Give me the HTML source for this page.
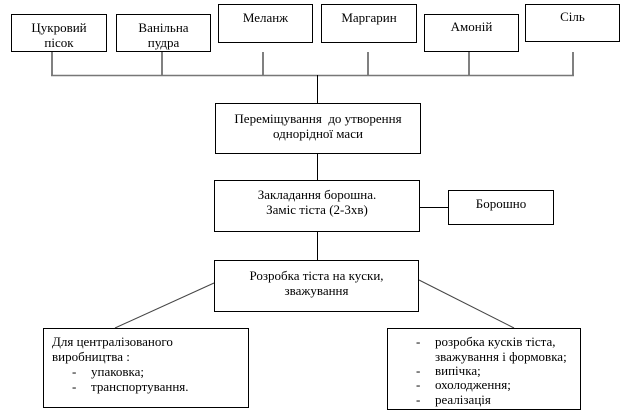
<!DOCTYPE html>
<html><head><meta charset="utf-8"><style>
body{margin:0;width:620px;height:416px;background:#fff;position:relative;overflow:hidden;font-family:"Liberation Serif",serif;font-size:13px;color:#000}
.b{position:absolute;border:1px solid #000;box-sizing:border-box;text-align:center;line-height:15px}
.t{position:absolute;white-space:nowrap;line-height:15px}
svg{position:absolute;left:0;top:0}
</style></head><body>
<svg width="620" height="416">
<g stroke="#000" stroke-width="1" fill="none">
<line x1="52" y1="52" x2="52" y2="75"/>
<line x1="162" y1="52" x2="162" y2="75"/>
<line x1="263" y1="52" x2="263" y2="75"/>
<line x1="368" y1="52" x2="368" y2="75"/>
<line x1="469" y1="52" x2="469" y2="75"/>
<line x1="573" y1="52" x2="573" y2="75"/>
<line x1="51" y1="75.5" x2="574" y2="75.5" stroke="#777" stroke-width="1.5"/>
<line x1="317.5" y1="75" x2="317.5" y2="103"/>
<line x1="317.5" y1="154" x2="317.5" y2="180"/>
<line x1="317.5" y1="232" x2="317.5" y2="260"/>
<line x1="420" y1="207.5" x2="448" y2="207.5"/>
<line x1="214" y1="283" x2="115" y2="328" stroke="#444"/>
<line x1="419" y1="280" x2="514" y2="328" stroke="#444"/>
</g></svg>
<div class="b" style="left:11px;top:14px;width:96px;height:38px;padding-top:5px">Цукровий<br>пісок</div>
<div class="b" style="left:116px;top:14px;width:95px;height:38px;padding-top:5px">Ванільна<br>пудра</div>
<div class="b" style="left:218px;top:4px;width:95px;height:39px;padding-top:5px">Меланж</div>
<div class="b" style="left:321px;top:4px;width:96px;height:39px;padding-top:5px">Маргарин</div>
<div class="b" style="left:424px;top:14px;width:95px;height:38px;padding-top:4px">Амоній</div>
<div class="b" style="left:525px;top:4px;width:95px;height:38px;padding-top:4px">Сіль</div>
<div class="b" style="left:215px;top:103px;width:206px;height:51px;padding-top:7px">Переміщування&nbsp; до утворення<br>однорідної маси</div>
<div class="b" style="left:214px;top:180px;width:206px;height:52px;padding-top:6px">Закладання борошна.<br>Заміс тіста (2-3хв)</div>
<div class="b" style="left:448px;top:190px;width:106px;height:35px;padding-top:5px">Борошно</div>
<div class="b" style="left:214px;top:260px;width:205px;height:52px;padding-top:7px">Розробка тіста на куски,<br>зважування</div>
<div class="b" style="left:43px;top:328px;width:206px;height:80px"></div>
<div class="t" style="left:52px;top:334px">Для централізованого</div>
<div class="t" style="left:52px;top:349px">виробництва :</div>
<div class="t" style="left:72px;top:364px">-</div><div class="t" style="left:91px;top:364px">упаковка;</div>
<div class="t" style="left:72px;top:379px">-</div><div class="t" style="left:91px;top:379px">транспортування.</div>
<div class="b" style="left:387px;top:328px;width:194px;height:82px"></div>
<div class="t" style="left:416px;top:334px">-</div><div class="t" style="left:435px;top:334px">розробка кусків тіста,</div>
<div class="t" style="left:435px;top:349px">зважування і формовка;</div>
<div class="t" style="left:416px;top:363px">-</div><div class="t" style="left:435px;top:363px">випічка;</div>
<div class="t" style="left:416px;top:377px">-</div><div class="t" style="left:435px;top:377px">охолодження;</div>
<div class="t" style="left:416px;top:392px">-</div><div class="t" style="left:435px;top:392px">реалізація</div>
</body></html>
